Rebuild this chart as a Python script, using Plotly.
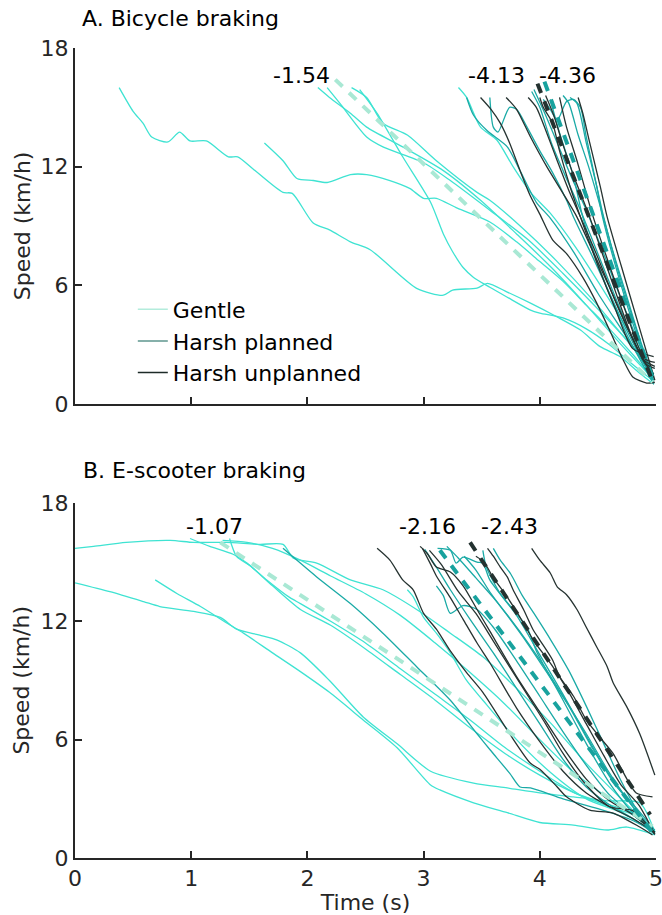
import plotly.graph_objects as go

# ---------------- Panel A: bicycle braking ----------------
A_gentle_t = [
    [0.38, 0.5, 0.585, 0.66, 0.8, 0.9, 0.99, 1.13, 1.32, 1.4, 1.53, 1.79, 1.87, 2.05, 2.19, 2.37, 2.54, 2.94, 3.17, 3.25, 3.46, 3.55, 3.72, 3.92, 4.15, 4.35, 4.52, 4.69, 4.86, 4.97],
    [1.63, 1.79, 1.91, 2.05, 2.17, 2.37, 2.51, 2.71, 2.88, 3.0, 3.11, 3.29, 3.57, 3.8, 4.0, 4.2, 4.4, 4.6, 4.8, 4.97],
    [2.45, 2.6, 2.82, 3.06, 3.17, 3.25, 3.34, 3.43, 3.57, 3.72, 3.92, 4.0, 4.2, 4.4, 4.6, 4.8, 4.97],
    [2.09, 2.19, 2.37, 2.51, 2.82, 3.17, 3.49, 3.8, 4.1, 4.4, 4.7, 4.97],
    [2.17, 2.28, 2.51, 2.65, 3.0, 3.23, 3.57, 3.9, 4.2, 4.5, 4.8, 4.97],
    [2.38, 2.51, 2.65, 2.86, 3.11, 3.46, 3.57, 3.85, 4.15, 4.45, 4.75, 4.97],
    [3.3, 3.37, 3.49, 3.63, 3.77, 3.92, 4.09, 4.3, 4.5, 4.7, 4.9, 4.98],
]
A_gentle_v = [
    [16.0, 14.8, 14.2, 13.5, 13.25, 13.75, 13.3, 13.3, 12.5, 12.5, 11.9, 10.7, 10.65, 9.15, 8.8, 8.2, 7.8, 5.85, 5.5, 5.76, 5.86, 6.1, 5.66, 5.1, 4.4, 3.74, 2.9, 2.4, 1.55, 1.05],
    [13.2, 12.3, 11.4, 11.3, 11.2, 11.6, 11.6, 11.3, 10.9, 10.4, 10.4, 9.9, 9.2, 8.2, 7.2, 6.2, 5.0, 3.8, 2.5, 1.3],
    [15.9, 14.7, 12.5, 10.2, 8.6, 7.7, 6.9, 6.4, 5.9, 5.4, 4.75, 4.6, 4.35, 3.8, 3.0, 2.0, 1.2],
    [16.0, 15.5, 14.7, 14.0, 13.0, 11.8, 10.3, 8.6, 6.9, 5.0, 3.0, 1.3],
    [16.0, 15.2, 13.5, 13.0, 12.2, 11.3, 9.8, 8.3, 6.6, 4.8, 2.9, 1.5],
    [16.0, 15.5, 14.2, 13.6, 12.3, 10.7, 10.3, 8.9, 7.2, 5.3, 3.2, 1.6],
    [16.0, 15.5, 14.0, 13.35, 12.0, 10.7, 9.65, 8.0, 6.2, 4.3, 2.4, 1.4],
]
A_planned_t = [
    [3.37, 3.43, 3.55, 3.72, 3.83, 3.97, 4.09, 4.3, 4.5, 4.7, 4.9, 4.98],
    [3.57, 3.6, 3.64, 3.74, 3.8, 3.89, 4.0, 4.11, 4.23, 4.29, 4.45, 4.6, 4.75, 4.9, 4.98],
    [4.03, 4.09, 4.15, 4.23, 4.29, 4.35, 4.4, 4.49, 4.54, 4.7, 4.85, 4.98],
    [4.26, 4.32, 4.4, 4.49, 4.55, 4.7, 4.85, 4.98],
    [4.09, 4.17, 4.29, 4.37, 4.55, 4.75, 4.97],
    [3.93, 4.0, 4.1, 4.2, 4.35, 4.5, 4.65, 4.8, 4.97],
    [4.2, 4.25, 4.33, 4.42, 4.52, 4.62, 4.74, 4.86, 4.98],
    [3.95, 4.05, 4.15, 4.27, 4.4, 4.55, 4.7, 4.85, 4.98],
]
A_planned_v = [
    [15.5, 14.6, 13.8, 13.0, 11.8, 10.2, 9.4, 7.6, 5.6, 3.8, 2.0, 1.2],
    [15.5, 14.0, 13.75, 15.0, 14.9, 14.0, 12.8, 11.7, 10.3, 9.45, 7.5, 5.6, 3.7, 2.0, 1.2],
    [15.4, 14.9, 14.35, 15.3, 15.4, 15.0, 13.5, 11.0, 9.45, 6.0, 3.2, 1.0],
    [15.5, 15.2, 13.2, 11.0, 9.45, 6.2, 3.4, 1.0],
    [15.4, 13.7, 11.5, 9.45, 6.3, 3.5, 1.1],
    [15.8, 15.0, 13.2, 11.8, 9.8, 7.6, 5.4, 3.3, 1.4],
    [15.6, 15.2, 13.6, 12.0, 10.0, 7.9, 5.6, 3.3, 1.3],
    [15.9, 14.6, 13.2, 11.5, 9.8, 7.6, 5.3, 3.1, 1.5],
]
A_unplanned_t = [
    [3.49, 3.58, 3.66, 3.74, 3.83, 3.92, 4.0, 4.11, 4.23, 4.37, 4.49, 4.6, 4.72, 4.8, 4.92, 4.99],
    [3.71, 3.8, 3.92, 4.06, 4.2, 4.32, 4.45, 4.6, 4.75, 4.9, 4.98],
    [3.9, 3.97, 4.06, 4.15, 4.26, 4.35, 4.5, 4.65, 4.8, 4.92, 4.99],
    [4.0, 4.03, 4.11, 4.17, 4.26, 4.35, 4.5, 4.65, 4.8, 4.98],
    [4.17, 4.23, 4.32, 4.4, 4.46, 4.6, 4.75, 4.9, 4.99],
    [4.33, 4.37, 4.43, 4.52, 4.58, 4.7, 4.85, 4.99],
    [4.05, 4.12, 4.2, 4.3, 4.42, 4.55, 4.68, 4.8, 4.9, 4.99],
]
A_unplanned_v = [
    [15.5, 14.9, 14.2, 13.2, 11.8, 10.5, 9.6, 8.3, 7.6, 6.4, 5.1, 3.74, 2.2, 1.37, 1.06, 1.1],
    [15.5, 14.9, 13.5, 12.0, 10.65, 9.45, 7.8, 5.9, 3.9, 2.1, 1.5],
    [15.5, 15.0, 13.7, 12.3, 10.65, 9.45, 7.4, 5.2, 3.3, 2.0, 1.8],
    [15.5, 15.0, 14.2, 12.8, 11.0, 9.45, 7.0, 4.8, 2.8, 2.4],
    [15.5, 14.0, 12.3, 10.65, 9.45, 7.0, 4.5, 2.3, 2.1],
    [15.5, 14.7, 13.2, 11.0, 9.45, 7.0, 4.0, 1.2],
    [15.6, 14.6, 13.1, 11.4, 9.6, 7.4, 5.2, 3.3, 2.2, 1.9],
]
A_mean_t = [[2.24, 4.97], [4.04, 4.98], [3.98, 4.98]]
A_mean_v = [[16.4, 1.1], [16.3, 1.2], [16.2, 1.0]]
A_labels = ["-1.54", "-4.36", "-4.13"]
A_label_t = [1.95, 4.24, 3.63]
A_label_v = [16.63, 16.63, 16.63]

# ---------------- Panel B: e-scooter braking ----------------
B_gentle_t = [
    [0, 0.16, 0.44, 0.82, 1.02, 1.3, 1.59, 1.79, 1.88, 2.08, 2.37, 2.65, 2.94, 3.23, 3.51, 3.8, 4.1, 4.4, 4.7, 4.99],
    [0, 0.3, 0.59, 0.73, 1.02, 1.25, 1.39, 1.59, 1.74, 1.94, 2.19, 2.48, 2.77, 3.06, 3.43, 3.72, 4.0, 4.29, 4.58, 4.86, 4.99],
    [0.69, 0.88, 1.08, 1.31, 1.45, 1.7, 1.94, 2.19, 2.48, 2.77, 3.06, 3.14, 3.43, 3.72, 4.0, 4.29, 4.58, 4.75, 4.99],
    [0.99, 1.16, 1.36, 1.48, 1.65, 1.85, 1.94, 2.2, 2.5, 2.8, 3.1, 3.4, 3.7, 4.0, 4.3, 4.6, 4.8, 4.99],
    [1.33, 1.39, 1.51, 1.7, 1.94, 2.2, 2.5, 2.8, 3.1, 3.4, 3.7, 4.0, 4.3, 4.6, 4.8, 4.99],
    [1.27, 1.48, 1.7, 1.94, 2.2, 2.5, 2.8, 3.1, 3.4, 3.7, 4.0, 4.3, 4.6, 4.8, 4.99],
    [2.86, 2.91, 3.0, 3.11, 3.23, 3.37, 3.51, 3.8, 4.1, 4.4, 4.7, 4.99],
]
B_gentle_v = [
    [15.7, 15.8, 16.0, 16.1, 16.0, 16.0, 15.9, 15.9, 15.2, 14.95, 14.1, 13.6, 12.6, 11.4, 10.2, 8.6, 6.8, 4.8, 3.0, 1.3],
    [13.95, 13.5, 13.0, 12.75, 12.5, 12.2, 11.6, 11.3, 11.05, 10.4, 9.0, 7.15, 5.8, 4.4, 3.8, 3.55, 3.3, 3.1, 2.9, 2.8, 1.3],
    [14.1, 13.4, 12.75, 11.9, 11.4, 10.4, 9.45, 8.4, 7.0, 5.6, 3.7, 3.45, 2.8, 2.3, 1.8, 1.67, 1.42, 1.57, 1.17],
    [16.2, 15.8, 15.4, 14.95, 14.1, 13.2, 12.9, 12.0, 10.9, 9.6, 8.3, 7.0, 5.6, 4.4, 3.3, 2.6, 2.2, 1.3],
    [16.2, 15.3, 14.8, 13.8, 12.6, 11.8, 10.6, 9.3, 8.0, 6.6, 5.3, 4.2, 3.3, 2.7, 2.3, 1.4],
    [16.1, 16.0, 15.7, 15.1, 14.3, 13.4, 12.3, 10.9, 9.4, 7.8, 6.0, 4.3, 3.0, 2.2, 1.3],
    [13.6, 13.25, 12.2, 11.4, 10.4, 9.0, 8.0, 6.0, 4.3, 3.0, 2.3, 1.3],
]
B_planned_t = [
    [1.79, 2.08, 2.37, 2.65, 2.94, 3.23, 3.46, 3.57, 3.74, 3.83, 3.92, 4.2, 4.5, 4.8, 4.99],
    [3.01, 3.11, 3.23, 3.4, 3.6, 3.8, 4.0, 4.2, 4.4, 4.6, 4.8, 4.99],
    [3.12, 3.23, 3.28, 3.34, 3.46, 3.51, 3.57, 3.8, 4.0, 4.2, 4.4, 4.6, 4.8, 4.99],
    [3.11, 3.17, 3.23, 3.34, 3.46, 3.6, 3.8, 4.0, 4.2, 4.4, 4.6, 4.8, 4.99],
    [3.51, 3.54, 3.66, 3.77, 3.89, 3.97, 4.2, 4.4, 4.6, 4.8, 4.99],
    [3.2, 3.3, 3.45, 3.6, 3.75, 3.9, 4.05, 4.2, 4.4, 4.6, 4.8, 4.99],
    [3.6, 3.66, 3.75, 3.85, 3.95, 4.1, 4.25, 4.4, 4.55, 4.7, 4.85, 4.99],
    [3.35, 3.45, 3.58, 3.72, 3.88, 4.05, 4.25, 4.45, 4.65, 4.85, 4.99],
]
B_planned_v = [
    [15.7, 14.25, 12.9, 11.4, 9.7, 8.0, 6.3, 5.5, 4.3, 3.6, 3.55, 3.0, 2.5, 1.9, 1.3],
    [15.65, 14.75, 13.6, 12.1, 10.4, 8.6, 6.8, 5.0, 3.6, 2.7, 2.0, 1.2],
    [15.7, 15.6, 14.95, 15.25, 15.0, 14.95, 14.1, 12.3, 10.3, 8.3, 6.2, 4.2, 2.6, 1.2],
    [13.8, 13.3, 12.4, 12.8, 12.6, 11.7, 10.0, 8.2, 6.4, 4.7, 3.2, 2.2, 1.3],
    [15.6, 14.75, 13.4, 12.6, 11.7, 10.5, 8.0, 5.8, 3.8, 2.3, 1.3],
    [15.8, 15.2, 14.2, 13.2, 12.1, 10.9, 9.6, 8.2, 6.3, 4.3, 2.6, 1.3],
    [15.7, 15.1, 14.4, 13.3, 12.4, 11.0, 9.5, 7.7, 5.8, 3.9, 2.3, 1.3],
    [15.3, 14.6, 13.4, 12.3, 11.0, 9.5, 7.7, 5.6, 3.7, 2.4, 1.4],
]
B_unplanned_t = [
    [2.6, 2.71, 2.82, 2.91, 3.0, 3.11, 3.23, 3.37, 3.51, 3.74, 3.92, 4.0, 4.15, 4.23, 4.43, 4.63, 4.86, 4.97],
    [2.97, 3.03, 3.11, 3.23, 3.34, 3.46, 3.57, 3.8, 4.0, 4.2, 4.4, 4.6, 4.8, 4.99],
    [2.99, 3.06, 3.11, 3.23, 3.34, 3.46, 3.57, 3.8, 4.0, 4.2, 4.4, 4.6, 4.8, 4.99],
    [3.55, 3.6, 3.66, 3.72, 3.77, 3.86, 3.94, 4.0, 4.11, 4.17, 4.29, 4.4, 4.52, 4.63, 4.75, 4.83, 4.97],
    [3.93, 4.0, 4.09, 4.15, 4.23, 4.32, 4.4, 4.49, 4.58, 4.63, 4.75, 4.86, 4.99],
    [3.05, 3.15, 3.3, 3.45, 3.6, 3.75, 3.9, 4.05, 4.2, 4.4, 4.6, 4.8, 4.99],
    [3.45, 3.52, 3.6, 3.7, 3.82, 3.95, 4.1, 4.25, 4.4, 4.55, 4.7, 4.85, 4.99],
]
B_unplanned_v = [
    [15.7, 15.1, 14.1, 13.6, 12.4, 11.6, 10.5, 9.4, 8.4, 6.3, 4.8, 4.5, 3.6, 3.1, 2.43, 2.28, 1.57, 1.17],
    [15.8, 15.45, 14.75, 14.5, 13.8, 12.6, 11.5, 9.2, 7.4, 5.6, 4.0, 2.9, 2.2, 1.3],
    [15.7, 14.9, 14.3, 13.2, 12.1, 10.9, 9.9, 7.6, 5.9, 4.4, 3.3, 2.6, 2.0, 1.3],
    [15.7, 15.3, 14.75, 14.25, 13.6, 12.6, 11.6, 11.05, 10.04, 9.2, 8.2, 7.0, 6.1, 5.3, 4.0, 3.3, 3.1],
    [15.7, 15.1, 14.45, 13.75, 13.35, 12.6, 11.7, 10.7, 9.7, 8.9, 7.65, 6.3, 4.2],
    [15.6, 14.9, 13.5, 12.4, 11.0, 9.6, 8.2, 6.8, 5.3, 3.7, 2.6, 2.4, 1.2],
    [15.3, 15.0, 14.2, 13.4, 12.3, 11.0, 9.8, 8.4, 6.8, 5.2, 3.7, 2.7, 1.2],
]
B_mean_t = [[1.25, 4.97], [3.14, 4.98], [3.40, 4.95]]
B_mean_v = [[16.0, 1.6], [15.6, 1.2], [16.0, 2.2]]
B_labels = ["-1.07", "-2.16", "-2.43"]
B_label_t = [1.20, 3.03, 3.74]
B_label_v = [16.8, 16.8, 16.8]

group_names = ["Gentle", "Harsh planned", "Harsh unplanned"]
line_colors = ["#3fe3d2", "#1aaaa6", "#263331"]
mean_colors = ["#a9e8d4", "#18a29e", "#243230"]
legend_colors = ["#b3ecdc", "#5e968e", "#1d2b28"]

FONT = "DejaVu Sans"
FS = 22

fig = go.Figure()

panels = [
    ("x", "y", [(A_gentle_t, A_gentle_v), (A_planned_t, A_planned_v), (A_unplanned_t, A_unplanned_v)],
     A_mean_t, A_mean_v, A_labels, A_label_t, A_label_v),
    ("x2", "y2", [(B_gentle_t, B_gentle_v), (B_planned_t, B_planned_v), (B_unplanned_t, B_unplanned_v)],
     B_mean_t, B_mean_v, B_labels, B_label_t, B_label_v),
]

annotations = []
for xa, ya, groups, mt, mv, labs, lt, lv in panels:
    for gi, (ts, vs) in enumerate(groups):
        for t, v in zip(ts, vs):
            fig.add_trace(go.Scatter(x=t, y=v, mode="lines", xaxis=xa, yaxis=ya,
                                     line=dict(color=line_colors[gi], width=1.3,
                                               shape="spline", smoothing=0.7),
                                     showlegend=False, hoverinfo="skip"))
    for gi in range(3):
        fig.add_trace(go.Scatter(x=mt[gi], y=mv[gi], mode="lines", xaxis=xa, yaxis=ya,
                                 line=dict(color=mean_colors[gi], width=4, dash="10px,9px"),
                                 showlegend=False, hoverinfo="skip"))
    for s, t, v in zip(labs, lt, lv):
        annotations.append(dict(text=s, x=t, y=v, xref=xa, yref=ya, showarrow=False,
                                xanchor="center", yanchor="middle",
                                font=dict(family=FONT, size=FS, color="#000000")))

# legend entries
for gi in range(3):
    fig.add_trace(go.Scatter(x=[None], y=[None], mode="lines", name=group_names[gi],
                             legendgroup=group_names[gi],
                             line=dict(color=legend_colors[gi], width=1.5)))

annotations.append(dict(text="A. Bicycle braking", x=0.0086, y=1.037, xref="paper", yref="paper",
                        showarrow=False, xanchor="left", yanchor="middle",
                        font=dict(family=FONT, size=FS, color="#000000")))
annotations.append(dict(text="B. E-scooter braking", x=0.0103, y=0.479, xref="paper", yref="paper",
                        showarrow=False, xanchor="left", yanchor="middle",
                        font=dict(family=FONT, size=FS, color="#000000")))
for yc in (0.780, 0.219):
    annotations.append(dict(text="Speed (km/h)", x=-0.0912, y=yc, xref="paper", yref="paper",
                            showarrow=False, xanchor="center", yanchor="middle", textangle=-90,
                            font=dict(family=FONT, size=FS, color="#262626")))

axis_common = dict(showline=True, linewidth=2, linecolor="#262626", ticks="inside",
                   ticklen=7, tickwidth=2, tickcolor="#262626", showgrid=False, zeroline=False,
                   automargin=False, ticklabeloverflow="allow",
                   tickfont=dict(family=FONT, size=FS, color="#262626"))

fig.update_layout(
    width=662, height=915,
    margin=dict(l=75, r=6, t=48, b=57),
    plot_bgcolor="white", paper_bgcolor="white",
    font=dict(family=FONT, size=FS, color="#262626"),
    showlegend=True,
    legend=dict(x=0.0995, y=0.703, xanchor="left", yanchor="top", bgcolor="rgba(0,0,0,0)",
                font=dict(family=FONT, size=FS, color="#000000"), tracegroupgap=0,
                itemclick=False),
    xaxis=dict(domain=[0, 1], range=[0, 5], anchor="y", tickvals=[0, 1, 2, 3, 4, 5],
               showticklabels=False, **axis_common),
    yaxis=dict(domain=[0.5605, 1], range=[0, 18], anchor="x", tickvals=[0, 6, 12, 18],
               **axis_common),
    xaxis2=dict(domain=[0, 1], range=[0, 5], anchor="y2", tickvals=[0, 1, 2, 3, 4, 5],
                title=dict(text="Time (s)", font=dict(family=FONT, size=FS, color="#262626")),
                **axis_common),
    yaxis2=dict(domain=[0, 0.4383], range=[0, 18], anchor="x2", tickvals=[0, 6, 12, 18],
                **axis_common),
    annotations=annotations,
)

fig.write_html("out.html", config={"displayModeBar": False},
               post_script="document.body.style.margin='0px';")
